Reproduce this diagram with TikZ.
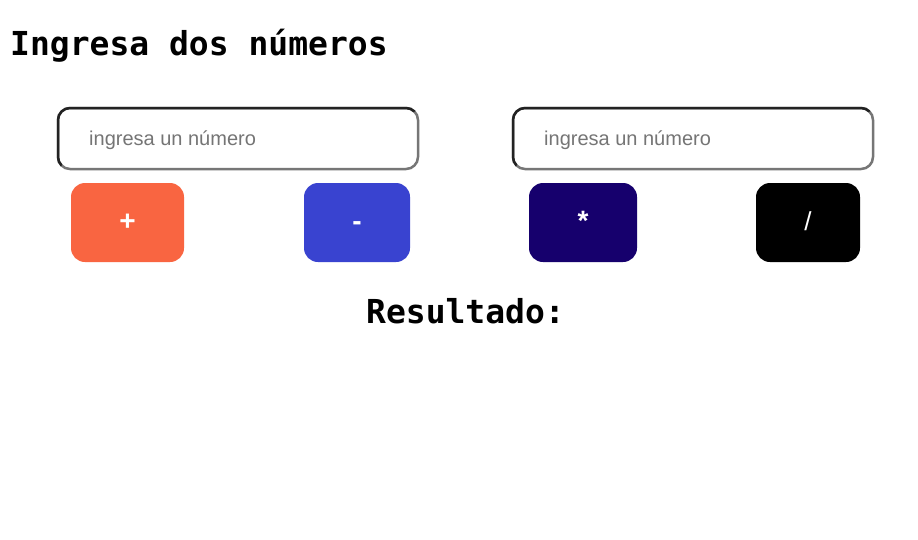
\documentclass[tikz,border=0pt]{standalone}
\usepackage{fontspec}
\setmainfont{Liberation Sans}
\newfontfamily\monofam{DejaVu Sans Mono}
\definecolor{darkedge}{HTML}{222222}
\definecolor{lightedge}{HTML}{767676}
\definecolor{placeholder}{HTML}{757575}
\definecolor{cplus}{HTML}{F96541}
\definecolor{cminus}{HTML}{3943D0}
\definecolor{ctimes}{HTML}{16006D}
\definecolor{cdiv}{HTML}{000000}
\tikzset{
  heading/.style={inner sep=0pt, font=\monofam\bfseries\fontsize{33}{38}\selectfont, text=black},
  inputbox/.style={draw=lightedge, line width=2.5pt, rounded corners=12pt, minimum width=360pt, minimum height=61pt, inner sep=0pt, outer sep=0pt, fill=white},
  hint/.style={inner sep=0pt, anchor=base west, text=placeholder, font=\fontsize{20}{24}\selectfont},
  opbtn/.style={rounded corners=14pt, minimum height=79pt, inner sep=0pt},
  optext/.style={inner sep=0pt, anchor=base, text=white, font=\bfseries\fontsize{28}{32}\selectfont},
}
\begin{document}
\begin{tikzpicture}[x=1pt,y=-1pt]
\useasboundingbox (0,0) rectangle (918,539);
\fill[white] (0,0) rectangle (918,539);

\node[heading, anchor=base west] (title) at (10,55) {Ingresa dos números};

% input boxes
\node[inputbox] (in1) at (238,138.5) {};
\node[inputbox] (in2) at (693,138.5) {};
\foreach \n in {in1,in2}{
  \begin{scope}
    \clip ([shift={(-10pt,10pt)}]\n.north west) -- ([shift={(10pt,10pt)}]\n.north east)
      -- ([shift={(-5pt,-5pt)}]\n.north east) -- ([shift={(5pt,5pt)}]\n.south west)
      -- ([shift={(-10pt,-10pt)}]\n.south west) -- cycle;
    \draw[darkedge, line width=2.5pt, rounded corners=12pt] (\n.south west) rectangle (\n.north east);
  \end{scope}
}
\node[hint] (hint1) at (89,145) {ingresa un número};
\node[hint] (hint2) at (544,145) {ingresa un número};

% operation buttons
\node[opbtn, fill=cplus, minimum width=113pt] (plus) at (127.5,222.5) {};
\node[opbtn, fill=cminus, minimum width=106pt] (minus) at (357,222.5) {};
\node[opbtn, fill=ctimes, minimum width=108pt] (times) at (583,222.5) {};
\node[opbtn, fill=cdiv, minimum width=104pt] (div) at (808,222.5) {};
\node[optext] (tplus) at ([yshift=-8pt]plus.center) {+};
\node[optext] (tminus) at ([yshift=-8pt]minus.center) {-};
\node[optext] (ttimes) at ([yshift=-8pt]times.center) {*};
\node[optext, font=\fontsize{26}{30}\selectfont] (tdiv) at ([yshift=-8pt]div.center) {/};

\node[heading, anchor=base] (result) at (465.5,323) {Resultado:};
\end{tikzpicture}
\end{document}
